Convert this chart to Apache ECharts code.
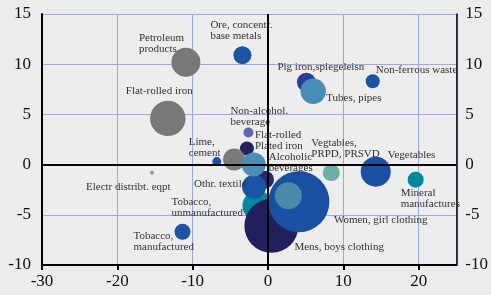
<!DOCTYPE html>
<html>
<head>
    <meta charset="utf-8">
    <title>Bubble Chart</title>
    <script src="https://cdn.jsdelivr.net/npm/echarts@6/dist/echarts.min.js"></script>
</head>
<body style="margin:0;background:#ececec;">
    <div id="main" style="width: 491px;height:295px;"></div>
    <script type="text/javascript">
        var myChart = echarts.init(document.getElementById('main'));

        // data
        var names = ['Electr distribt. eqpt', 'Petroleum\nproducts', 'Flat-rolled iron', 'Ore, concentr.\nbase metals',
            'Pig iron,spiegeleisn', 'Tubes, pipes', 'Non-ferrous waste', 'Non-alcohol.\nbeverage', 'Flat-rolled\nPlated iron',
            '', 'Lime,\ncement', '', 'Tobacco,\nunmanufactured', 'Othr. textile', 'Alcoholic\nbeverages',
            'Mens, boys clothing', 'Women, girl clothing', '', 'Vegtables,\nPRPD, PRSVD', 'Vegetables',
            'Mineral\nmanufactures', 'Tobacco,\nmanufactured'];
        var xValues = [-15.4, -10.9, -13.3, -3.4, 5.1, 6.0, 13.9, -2.6, -2.8, -4.5, -6.8, -0.4, -1.4, -1.85, -1.9,
            0.45, 4.1, 2.7, 8.4, 14.3, 19.6, -11.35];
        var yValues = [-0.8, 10.2, 4.6, 10.9, 8.2, 7.3, 8.3, 3.2, 1.6, 0.5, 0.3, -1.5, -4.1, -2.2, 0.0,
            -6.1, -3.7, -3.1, -0.8, -0.7, -1.5, -6.7];
        var weights = [0.4, 21, 31.3, 8.1, 9, 16.1, 4.9, 2.5, 4.9, 12.1, 2, 8.1, 22.5, 14.4, 14.4,
            72.9, 93, 18.2, 7.2, 22.5, 6.4, 6.4];

        var colors = ['#9a9a9a', '#787878', '#787878', '#1a54a4', '#2b3c9c', '#478db5', '#1a54a4', '#5a68b4', '#25215f',
            '#7a7a7a', '#1a54a4', '#2a2868', '#008a9f', '#1a54a4', '#4a8db5',
            '#211f5c', '#1a50a2', '#4a8aa8', '#6cada9', '#1a50a2', '#00899d', '#1a54a4'];
        // label offset from bubble centre [dx, dy] in px
        var labelOffsets = [[-66, 14], [-47, -19], [-42, -27], [-32, -25], [-29, -15], [13, 7], [3, -11], [-18, -16], [8, -8],
            [0, 0], [-28, -14], [0, 0], [-86, 2], [-60, -3], [15, -2],
            [23, 21], [35, 18], [0, 0], [-20, -24], [12, -17], [-15, 19], [-49, 10]];

        var points = [];
        for (var i = 0; i < names.length; i++) {
            points.push({
                name: names[i],
                value: [xValues[i], yValues[i], weights[i]],
                itemStyle: {color: colors[i]},
                label: {
                    show: names[i] !== '',
                    position: 'inside',
                    align: 'left',
                    verticalAlign: 'middle',
                    offset: labelOffsets[i]
                }
            });
        }

        var axisText = {color: '#111', fontFamily: 'Liberation Serif', fontSize: 17};

        option = {
            backgroundColor: '#ececec',
            animation: false,
            grid: {left: 42, right: 30, top: 14, bottom: 30, show: true, backgroundColor: '#ededed', borderWidth: 0},
            xAxis: {
                type: 'value', min: -30, max: 25, interval: 10,
                axisLine: {show: true, onZero: false, lineStyle: {color: '#000', width: 2}},
                axisTick: {show: true, length: 5, lineStyle: {color: '#000', width: 2}},
                axisLabel: Object.assign({margin: 8, showMaxLabel: false}, axisText),
                splitLine: {lineStyle: {color: '#9ba7e6', width: 1}}
            },
            yAxis: [
                {
                    type: 'value', min: -10, max: 15, interval: 5, position: 'left',
                    axisLine: {show: true, onZero: false, lineStyle: {color: '#000', width: 2}},
                    axisTick: {show: false},
                    axisLabel: Object.assign({margin: 11}, axisText),
                    splitLine: {lineStyle: {color: '#9ba7e6', width: 1}}
                },
                {
                    type: 'value', min: -10, max: 15, interval: 5, position: 'right',
                    axisLine: {show: true, onZero: false, lineStyle: {color: '#000', width: 1.5}},
                    axisTick: {show: false},
                    axisLabel: Object.assign({margin: 9}, axisText),
                    splitLine: {show: false}
                }
            ],
            series: [
                {
                    type: 'scatter',
                    data: [],
                    z: 1,
                    markLine: {
                        silent: true,
                        symbol: 'none',
                        label: {show: false},
                        lineStyle: {color: '#000', width: 2, type: 'solid'},
                        data: [{xAxis: 0}, {yAxis: 0}]
                    }
                },
                {
                    type: 'scatter',
                    z: 3,
                    data: points,
                    symbolSize: function (val) {
                        return 2 * Math.sqrt(val[2] * 10);
                    },
                    itemStyle: {opacity: 1},
                    label: {
                        color: '#333',
                        fontFamily: 'Liberation Serif',
                        fontSize: 11,
                        lineHeight: 11,
                        formatter: '{b}'
                    },
                    emphasis: {disabled: true}
                }
            ]
        };
        myChart.setOption(option);
    </script>
</body>
</html>
